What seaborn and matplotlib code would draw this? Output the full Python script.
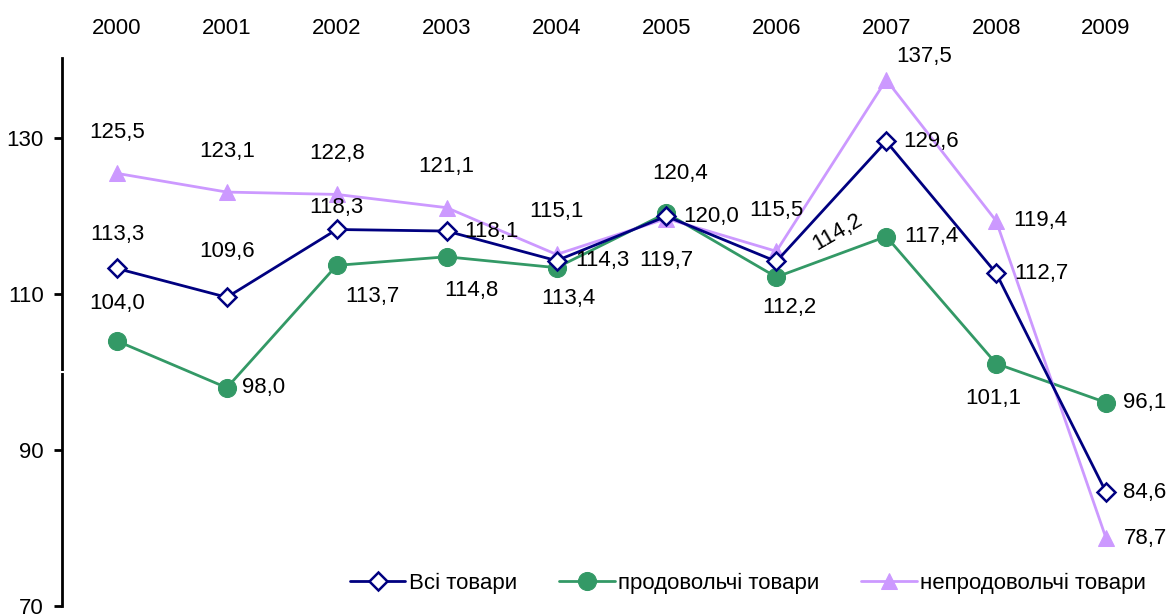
import pandas as pd
import matplotlib.pyplot as plt
import seaborn as sns

years = ["2000", "2001", "2002", "2003", "2004", "2005", "2006", "2007", "2008", "2009"]
all_goods = [113.3, 109.6, 118.3, 118.1, 114.3, 120.0, 114.2, 129.6, 112.7, 84.6]
food = [104.0, 98.0, 113.7, 114.8, 113.4, 120.4, 112.2, 117.4, 101.1, 96.1]
non_food = [125.5, 123.1, 122.8, 121.1, 115.1, 119.7, 115.5, 137.5, 119.4, 78.7]
names = ["Всі товари", "продовольчі товари", "непродовольчі товари"]

# label offsets in pixels (dx, dy), screen y goes down
off_all = [(0, -34), (0, -46), (0, -22), (45, 0), (46, 0), (45, 0), (61, -29), (45, 0), (45, 0), (39, 0)]
off_food = [(0, -37), (37, 0), (36, 31), (25, 34), (12, 31), (14, -40), (13, 30), (45, 0), (-3, 35), (39, 0)]
off_non = [(0, -41), (0, -41), (0, -41), (0, -41), (0, -43), (0, 42), (0, -41), (38, -23), (44, 0), (39, 0)]
rot_all = [0, 0, 0, 0, 0, 0, 30, 0, 0, 0]

sns.set_style("white")
plt.rcParams["font.family"] = ["Liberation Sans", "DejaVu Sans"]
plt.rcParams["font.size"] = 16
plt.rcParams["text.color"] = "black"
plt.rcParams["xtick.color"] = "black"
plt.rcParams["ytick.color"] = "black"

fig = plt.figure(figsize=(11.75, 6.14), dpi=100)
ax = fig.add_axes([62 / 1175, 8 / 614, 1099 / 1175, 548 / 614])

x = list(range(len(years)))
df = pd.DataFrame({"x": x, "all": all_goods, "food": food, "non": non_food})

sns.lineplot(data=df, x="x", y="non", ax=ax, color="#CC99FF", lw=2, marker="^",
             markersize=11, markeredgecolor="#CC99FF", label=names[2], zorder=3)
sns.lineplot(data=df, x="x", y="food", ax=ax, color="#339966", lw=2, marker="o",
             markersize=13, markeredgecolor="#339966", label=names[1], zorder=2)
sns.lineplot(data=df, x="x", y="all", ax=ax, color="#000080", lw=2, marker="D",
             markersize=9, markerfacecolor="white", markeredgecolor="#000080",
             markeredgewidth=1.8, label=names[0], zorder=4)

px = 72 / 100
for vals, offs, rots in [(all_goods, off_all, rot_all), (food, off_food, [0] * 10),
                         (non_food, off_non, [0] * 10)]:
    for i, v in enumerate(vals):
        dx, dy = offs[i]
        ax.annotate(f"{v:.1f}".replace(".", ","), (i, v), xytext=(dx * px, -dy * px),
                    textcoords="offset points", ha="center", va="center",
                    rotation=rots[i], fontsize=16, color="black", zorder=6)

ax.set_xlim(-0.5, 9.5)
ax.set_ylim(70, 140.3)
ax.set_yticks([70, 90, 110, 130])
ax.set_xticks(x)
ax.set_xticklabels(years)
ax.xaxis.tick_top()
ax.tick_params(axis="x", length=0, pad=14, labelsize=16)
ax.tick_params(axis="y", left=True, length=6, width=2, pad=7, labelsize=16)
ax.set_xlabel("")
ax.set_ylabel("")
for s in ["top", "right", "bottom"]:
    ax.spines[s].set_visible(False)
ax.spines["left"].set_linewidth(2)
ax.spines["left"].set_color("black")
ax.plot([-0.52, -0.48], [100, 100], color="white", lw=1.5, clip_on=False, zorder=7)

h, l = ax.get_legend_handles_labels()
order = [l.index(n) for n in names]
ax.legend([h[i] for i in order], [l[i] for i in order], loc="center", ncol=3,
          bbox_to_anchor=(748 / 1175, 1 - 583 / 614), bbox_transform=fig.transFigure,
          frameon=False, fontsize=16, handlelength=2.5, handletextpad=0.15,
          columnspacing=1.9, borderpad=0)

fig.savefig("out.png", dpi=100)
